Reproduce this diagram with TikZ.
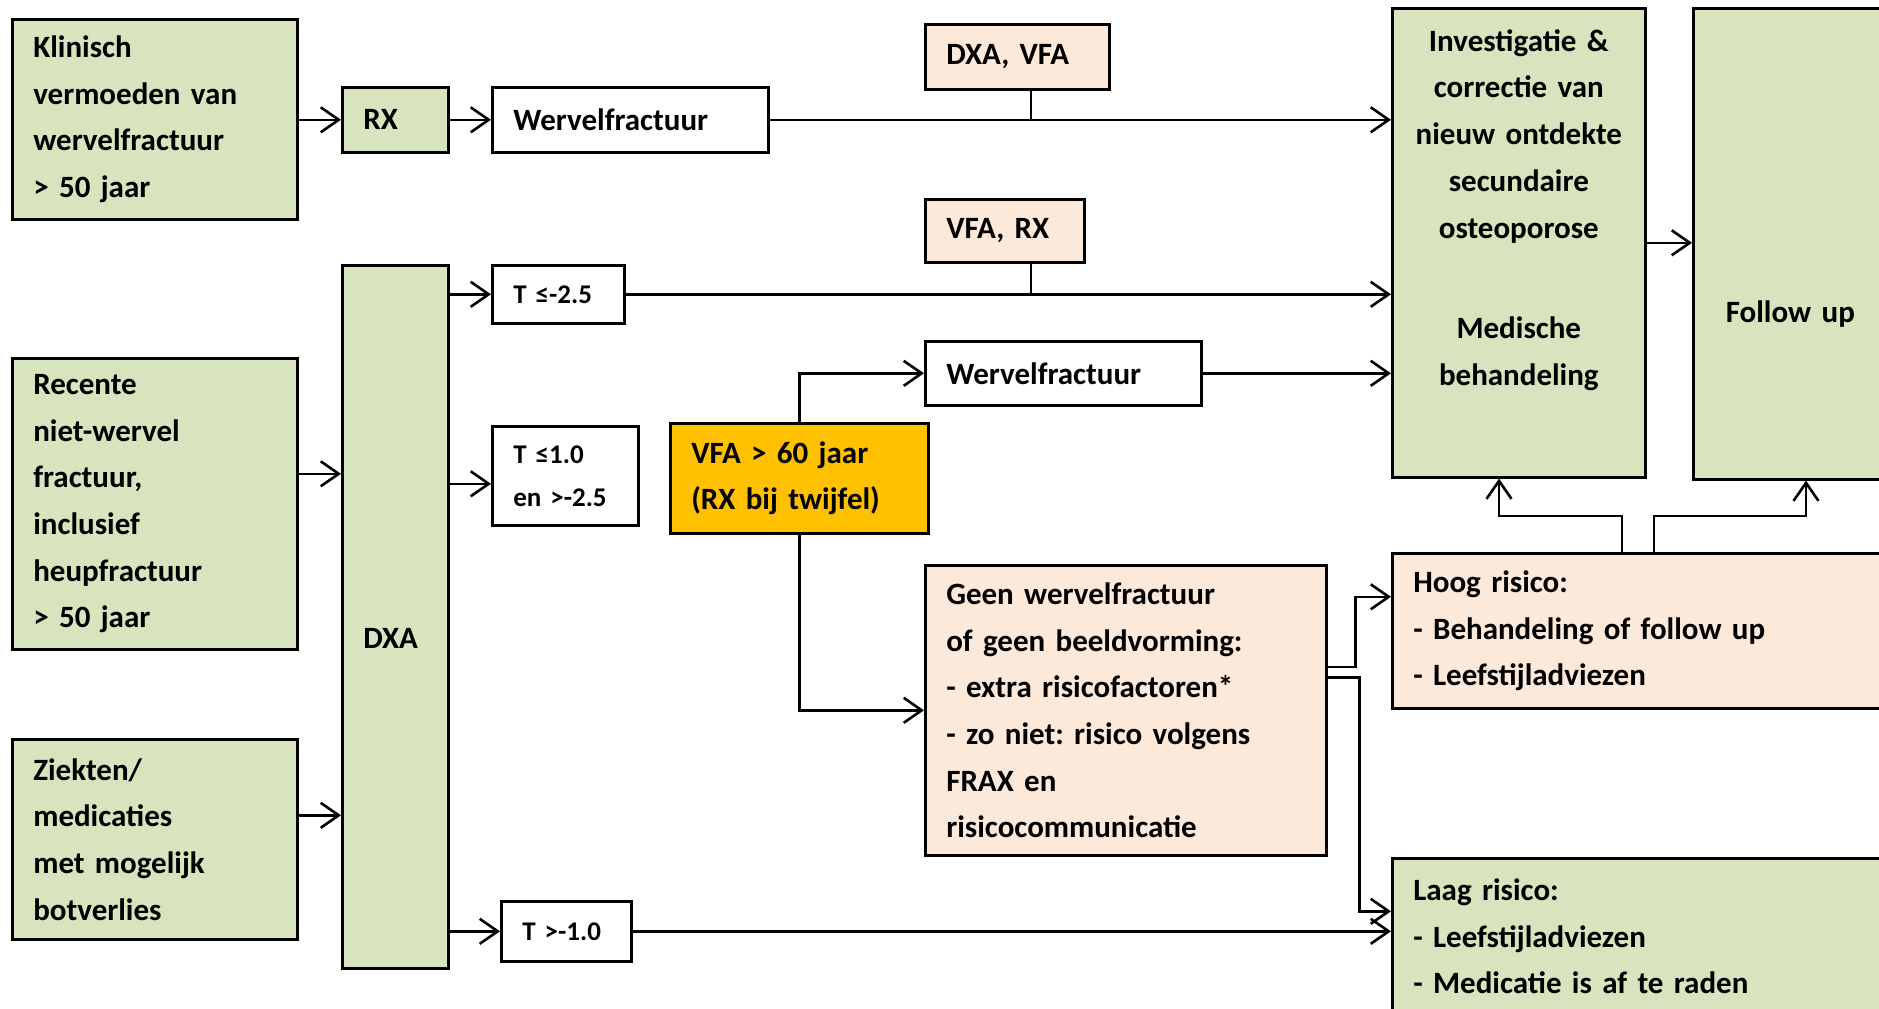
\documentclass[tikz,border=0pt]{standalone}
\usepackage{fontspec}
\setmainfont{Carlito}
\usepackage{xcolor}
\definecolor{lineDark}{HTML}{000000}
\definecolor{greenBg}{HTML}{D7E4BD}
\definecolor{peachBg}{HTML}{FDE9D9}
\definecolor{orangeBg}{HTML}{FFC000}
\usepackage{tikz}
\usetikzlibrary{arrows.meta,positioning,calc}
\frenchspacing
\tikzset{%
  flowBox/.style={%
    rectangle,
    draw=lineDark,
    line width=2.6pt,
    anchor=north west,
    inner xsep=21pt,
    inner ysep=0pt,
    align=left,
    font=\bfseries\fontsize{31}{46.7}\selectfont
  },
  greenBox/.style={flowBox, fill=greenBg},
  peachBox/.style={flowBox, fill=peachBg},
  whiteBox/.style={flowBox, fill=white},
  orangeBox/.style={flowBox, fill=orangeBg},
  smallText/.style={font=\bfseries\fontsize{27}{43}\selectfont},
  arrowLine/.style={%
    -{Straight Barb[length=18pt,width=25pt]},
    line width=2.6pt,
    color=lineDark
  },
  plainLine/.style={line width=2.6pt, color=lineDark}
}

\begin{document}
\begin{tikzpicture}[x=1pt,y=-1pt]
    \useasboundingbox (0,0) rectangle (1879,1009);
    \clip (0,0) rectangle (1879,1009);

    \node[greenBox, minimum width=285pt, minimum height=200pt, text width=243pt] (klin) at (11,18) {Klinisch\\vermoeden van\\wervelfractuur\\> 50 jaar};
    \node[greenBox, minimum width=106pt, minimum height=65pt, text width=64pt] (rx) at (341,86) {RX};
    \node[whiteBox, minimum width=276pt, minimum height=65pt, text width=234pt] (wfA) at (491,86) {Wervelfractuur};
    \node[peachBox, minimum width=184pt, minimum height=65pt, text width=142pt] (dxavfa) at (924,23) {DXA, VFA};
    \node[greenBox, align=center, inner xsep=10pt, minimum width=253pt, minimum height=469pt, text width=233pt] (inv) at (1391,7) {Investigatie \&\\correctie van\\nieuw ontdekte\\secundaire\\osteoporose\\[54pt]Medische\\behandeling\\[24pt]\mbox{}};
    \node[greenBox, align=center, minimum width=194pt, minimum height=471pt, text width=152pt] (fup) at (1692,7) {\raisebox{-70pt}[\height][\depth]{Follow up}};

    \node[greenBox, minimum width=106pt, minimum height=703pt, text width=64pt] (dxa) at (341,264) {\raisebox{-22pt}[\height][\depth]{DXA}};
    \node[whiteBox, smallText, minimum width=132pt, minimum height=58pt, text width=90pt] (tA) at (491,264) {T ≤-2.5};
    \node[peachBox, minimum width=159pt, minimum height=63pt, text width=117pt] (vfarx) at (924,198) {VFA, RX};
    \node[greenBox, minimum width=285pt, minimum height=291pt, text width=243pt] (rec) at (11,357) {Recente\\niet-wervel\\fractuur,\\inclusief\\heupfractuur\\> 50 jaar};
    \node[whiteBox, smallText, minimum width=146pt, minimum height=99pt, text width=104pt] (tB) at (491,425) {T ≤1.0\\en >-2.5};
    \node[orangeBox, minimum width=258pt, minimum height=110pt, text width=216pt] (vfa) at (669,422) {VFA > 60 jaar\\(RX bij twijfel)};
    \node[whiteBox, minimum width=276pt, minimum height=64pt, text width=234pt] (wfB) at (924,340) {Wervelfractuur};
    \node[peachBox, minimum width=401pt, minimum height=290pt, text width=359pt] (geen) at (924,564) {Geen wervelfractuur\\of geen beeldvorming:\\- extra risicofactoren*\\- zo niet: risico volgens\\FRAX en\\risicocommunicatie};
    \node[peachBox, minimum width=495pt, minimum height=155pt, text width=453pt] (hoog) at (1391,552) {Hoog risico:\\- Behandeling of follow up\\- Leefstijladviezen};
    \node[greenBox, minimum width=495pt, minimum height=156pt, text width=453pt] (laag) at (1391,857) {Laag risico:\\- Leefstijladviezen\\- Medicatie is af te raden};
    \node[greenBox, minimum width=285pt, minimum height=200pt, text width=243pt] (zie) at (11,738) {Ziekten/\\medicaties\\met mogelijk\\botverlies};
    \node[whiteBox, smallText, minimum width=130pt, minimum height=60pt, text width=88pt] (tC) at (500,900) {T >-1.0};

    \coordinate (stemA) at ($(dxavfa.south west)+(107,0)$);
    \coordinate (stemB) at ($(vfarx.south west)+(107,0)$);
    \coordinate (recOut) at ($(rec.east)+(0,-30)$);
    \coordinate (zieOut) at ($(zie.east)+(0,-24)$);
    \coordinate (tBin) at ($(tB.west)+(0,8)$);
    \coordinate (geenUp) at ($(geen.east)+(0,-43.5)$);
    \coordinate (geenDown) at ($(geen.east)+(0,-33)$);
    \coordinate (hoogIn) at ($(hoog.west)+(0,-34)$);
    \coordinate (laagIn) at ($(laag.west)+(0,-25)$);
    \coordinate (hoogOutA) at ($(hoog.north west)+(231,0)$);
    \coordinate (hoogOutB) at ($(hoog.north west)+(263,0)$);
    \coordinate (invIn) at ($(inv.south west)+(108,0)$);
    \coordinate (fupIn) at ($(fup.south west)+(114,0)$);

    \draw[arrowLine] (klin.east |- rx.west) -- (rx.west);
    \draw[arrowLine] (rx) -- (wfA);
    \draw[arrowLine] (wfA) -- (wfA -| inv.west);
    \draw[plainLine] (stemA) -- (stemA |- wfA.east);
    \draw[arrowLine] (dxa.east |- tA.west) -- (tA.west);
    \draw[arrowLine] (tA) -- (tA -| inv.west);
    \draw[plainLine] (stemB) -- (stemB |- tA.east);
    \draw[arrowLine] (recOut) -- (recOut -| dxa.west);
    \draw[arrowLine] (tBin -| dxa.east) -- (tBin);
    \draw[arrowLine] (vfa.north) |- (wfB.west);
    \draw[arrowLine] (wfB) -- (wfB -| inv.west);
    \draw[arrowLine] (vfa.south) |- (geen.west);
    \draw[arrowLine] (geenUp) -- ++(28,0) |- (hoogIn);
    \draw[arrowLine] (geenDown) -- ++(32,0) |- (laagIn);
    \draw[arrowLine] (zieOut) -- (zieOut -| dxa.west);
    \draw[arrowLine] (dxa.east |- tC.west) -- (tC.west);
    \draw[arrowLine] (tC) -- (tC -| laag.west);
    \draw[arrowLine] (inv) -- (inv -| fup.west);
    \draw[arrowLine] (hoogOutA) -- ++(0,-36) -| (invIn);
    \draw[arrowLine] (hoogOutB) -- ++(0,-36) -| (fupIn);
\end{tikzpicture}
\end{document}
